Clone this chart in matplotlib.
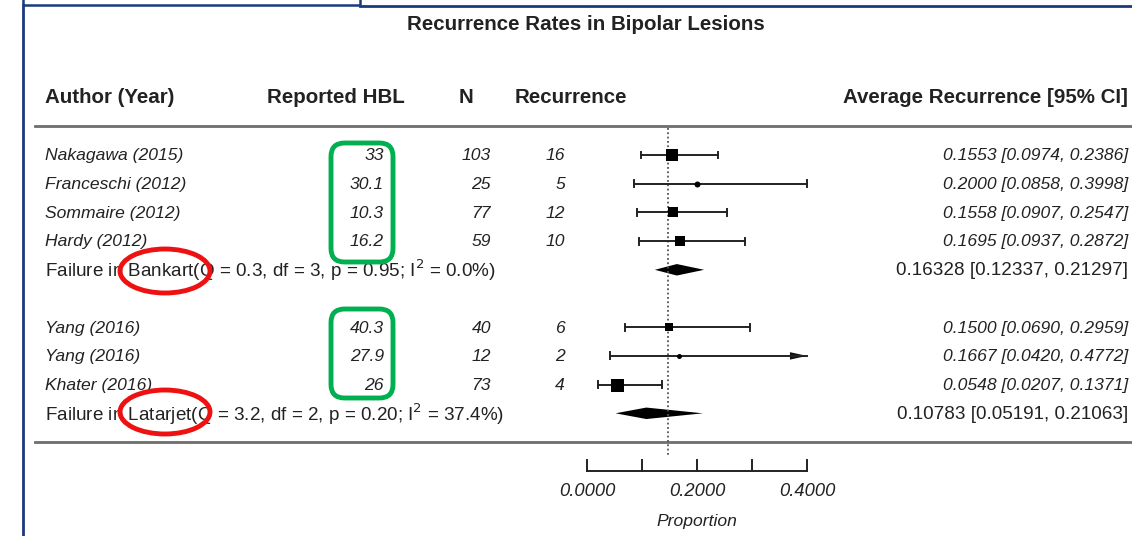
import matplotlib.pyplot as plt
from matplotlib.patches import FancyBboxPatch, Ellipse, Rectangle
from matplotlib.lines import Line2D

plt.rcParams['font.family'] = ['Liberation Sans', 'DejaVu Sans']

# ---- data ----
authors = ["Nakagawa (2015)", "Franceschi (2012)", "Sommaire (2012)", "Hardy (2012)",
           "Yang (2016)", "Yang (2016)", "Khater (2016)"]
hbl = ["33", "30.1", "10.3", "16.2", "40.3", "27.9", "26"]
n_pat = [103, 25, 77, 59, 40, 12, 73]
recur = [16, 5, 12, 10, 6, 2, 4]
est = [0.1553, 0.2000, 0.1558, 0.1695, 0.1500, 0.1667, 0.0548]
ci_lo = [0.0974, 0.0858, 0.0907, 0.0937, 0.0690, 0.0420, 0.0207]
ci_hi = [0.2386, 0.3998, 0.2547, 0.2872, 0.2959, 0.4772, 0.1371]
study_rows = [0, 1, 2, 3, 6, 7, 8]

groups = ["Bankart", "Latarjet"]
group_stats = ["(Q = 0.3, df = 3, p = 0.95; I$^2$ = 0.0%)",
               "(Q = 3.2, df = 2, p = 0.20; I$^2$ = 37.4%)"]
group_est = [0.16328, 0.10783]
group_lo = [0.12337, 0.05191]
group_hi = [0.21297, 0.21063]
group_rows = [4, 9]

overall = 0.1475
xticks = [0.0, 0.1, 0.2, 0.3, 0.4]
xticklabels = ["0.0000", "", "0.2000", "", "0.4000"]

# ---- style ----
box_px = [12, 6, 10.5, 9.5, 8, 5, 13]
W, H = 1132, 536
x0_px, unit_px = 587, 550      # pixel of 0.0 and pixels per unit
y0_px, row_px = 155, 28.7      # pixel of row 0 and pixels per row
ink = '#222222'

fig = plt.figure(figsize=(W / 100, H / 100), dpi=100)
ax = fig.add_axes([0, 0, 1, 1])
ax.set_xlim(-x0_px / unit_px, (W - x0_px) / unit_px)
ax.set_ylim((H - y0_px) / row_px, -y0_px / row_px)
ax.axis('off')


def px(x):
    return (x - x0_px) / unit_px


# title and headers
ax.text(px(586), -4.56, "Recurrence Rates in Bipolar Lesions", ha='center', va='center',
        fontsize=14.8, fontweight='bold', color=ink)
hdr = dict(va='center', fontsize=14.8, fontweight='bold', color=ink)
ax.text(px(45), -2.0, "Author (Year)", ha='left', **hdr)
ax.text(px(405), -2.0, "Reported HBL", ha='right', **hdr)
ax.text(px(466), -2.0, "N", ha='center', **hdr)
ax.text(px(515), -2.0, "Recurrence", ha='left', **hdr)
ax.text(px(1128), -2.0, "Average Recurrence [95% CI]", ha='right', **hdr)

# separators
ax.plot([px(35), px(W)], [-1, -1], color='#6e6e6e', lw=2)
ax.plot([px(35), px(W)], [10, 10], color='#6e6e6e', lw=2)

# reference line
ax.plot([overall, overall], [-0.95, 10.45], color='#555555', lw=1.3, ls=(0, (1, 1.4)))

row_fs = 12.6
for i, r in enumerate(study_rows):
    it = dict(va='center', fontsize=row_fs, style='italic', color=ink)
    ax.text(px(45), r + 0.03, authors[i], ha='left', **it)
    ax.text(px(384), r + 0.03, hbl[i], ha='right', **it)
    ax.text(px(491), r + 0.03, str(n_pat[i]), ha='right', **it)
    ax.text(px(565), r + 0.03, str(recur[i]), ha='right', **it)
    ax.text(px(1128), r + 0.03, f"{est[i]:.4f} [{ci_lo[i]:.4f}, {ci_hi[i]:.4f}]",
            ha='right', **it)

    hi = min(ci_hi[i], xticks[-1])
    ax.plot([ci_lo[i], hi], [r, r], color=ink, lw=1.4)
    ax.plot([ci_lo[i], ci_lo[i]], [r - 0.12, r + 0.12], color=ink, lw=1.4)
    if ci_hi[i] > xticks[-1]:
        ax.fill([hi, hi - 0.031, hi - 0.031], [r, r - 0.13, r + 0.13], color='#111111', lw=0)
    else:
        ax.plot([hi, hi], [r - 0.12, r + 0.12], color=ink, lw=1.4)
    mk = 'o' if box_px[i] <= 6 else 's'
    ax.plot(est[i], r, marker=mk, color='black', markersize=box_px[i] * 0.72, mew=0)

for g, r in enumerate(group_rows):
    ax.text(px(45), r + 0.03, "Failure in " + groups[g] + group_stats[g], ha='left',
            va='center', fontsize=13.6, color=ink)
    ax.text(px(1128), r + 0.03, f"{group_est[g]:.5f} [{group_lo[g]:.5f}, {group_hi[g]:.5f}]",
            ha='right', va='center', fontsize=13.6, color=ink)
    ax.fill([group_lo[g], group_est[g], group_hi[g], group_est[g]],
            [r, r - 0.2, r, r + 0.2], color='black', lw=0)

# x axis
ax.plot([xticks[0], xticks[-1]], [11, 11], color=ink, lw=1.4)
for t, lab in zip(xticks, xticklabels):
    ax.plot([t, t], [11, 10.64], color=ink, lw=1.4)
    if lab:
        ax.text(t, 11.72, lab, ha='center', va='center', fontsize=13.2, style='italic',
                color=ink)
ax.text(0.2, 12.78, "Proportion", ha='center', va='center', fontsize=12.6, style='italic',
        color=ink)


# ---- annotation overlays (pixel positions) ----
def fx(x):
    return x / W


def fy(y):
    return 1 - y / H


navy = '#1b3a7e'
fig.add_artist(Rectangle((fx(23), fy(5)), fx(337), fy(-10) - fy(5), transform=fig.transFigure,
                         fill=False, ec=navy, lw=1.8))
fig.add_artist(Line2D([fx(23), fx(23)], [fy(5), fy(H + 5)], transform=fig.transFigure,
                      color=navy, lw=2))
fig.add_artist(Line2D([fx(360), fx(W)], [fy(6), fy(6)], transform=fig.transFigure,
                      color=navy, lw=2))

green = '#00b050'
for top, bot in [(143, 262), (309, 398)]:
    fig.add_artist(FancyBboxPatch((fx(331), fy(bot)), fx(62), fy(top) - fy(bot),
                                  boxstyle="round,pad=0,rounding_size=0.012",
                                  transform=fig.transFigure, fill=False, ec=green, lw=3.5,
                                  mutation_aspect=W / H))
for cy in [271, 412]:
    fig.add_artist(Ellipse((fx(165), fy(cy)), fx(90), fy(0) - fy(44),
                           transform=fig.transFigure, fill=False, ec='#ee1111', lw=3.5))

plt.savefig("out.png", dpi=100)
